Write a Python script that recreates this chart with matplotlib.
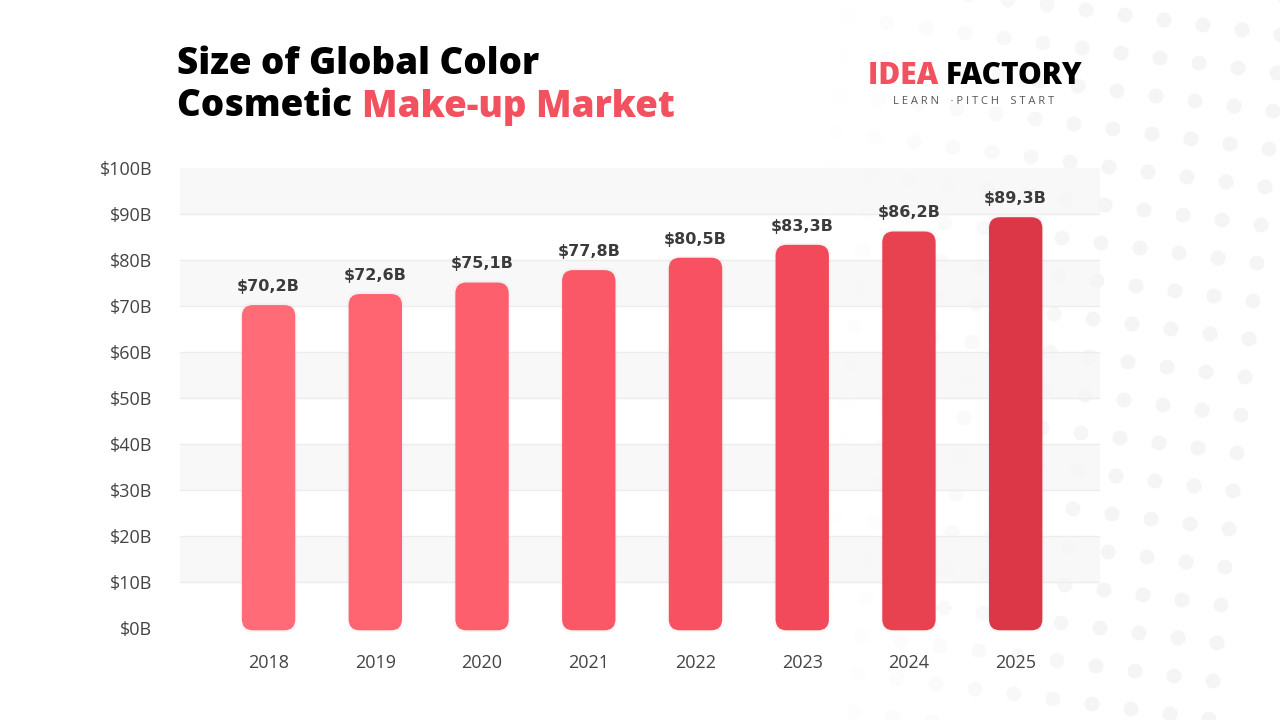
import numpy as np
import matplotlib
matplotlib.use('Agg')
import matplotlib.pyplot as plt
from matplotlib.patches import FancyBboxPatch, Circle

years = ['2018', '2019', '2020', '2021', '2022', '2023', '2024', '2025']
market_size = [70.2, 72.6, 75.1, 77.8, 80.5, 83.3, 86.2, 89.3]
value_labels = ['$70,2B', '$72,6B', '$75,1B', '$77,8B', '$80,5B', '$83,3B', '$86,2B', '$89,3B']
bar_colors = ['#ff6b77', '#fe6571', '#fd5f6c', '#fb5867', '#f85262', '#f24a5a', '#e84251', '#dc3747']
y_ticks = [0, 10, 20, 30, 40, 50, 60, 70, 80, 90, 100]
y_ticklabels = ['$%dB' % t for t in y_ticks]

RED = '#f2525f'
TEXT = '#3b3b3b'
plt.rcParams['font.family'] = ['Open Sans', 'DejaVu Sans']

fig = plt.figure(figsize=(12.8, 7.2), dpi=100)
fig.patch.set_facecolor('white')

# faint dot pattern in the background (right side)
bg = fig.add_axes([0, 0, 1, 1], zorder=-5)
bg.set_xlim(0, 1280)
bg.set_ylim(720, 0)
bg.axis('off')
for row in range(-2, 22):
    for col in range(0, 14):
        cx = 770 + col * 39 - row * 4
        cy = row * 38 + col * 5 + 8
        if cx < 820:
            continue
        a = min(1.0, (cx - 820) / 300.0)
        bg.add_patch(Circle((cx, cy), 7.5, color='#f5f5f5', alpha=a, lw=0))

# main axes: x 180..1100 px, y 168..628 px
ax = fig.add_axes([180 / 1280, 1 - 628 / 720, 920 / 1280, 460 / 720])
ax.set_facecolor('none')
x = np.arange(len(years))
ax.set_xlim(-0.83, 7.79)
ax.set_ylim(0, 100)

for i in range(0, 10, 2):
    ax.axhspan(y_ticks[i + 1], y_ticks[i + 2] if i + 2 < len(y_ticks) else 100,
               color='#f6f6f6', alpha=0.75, lw=0, zorder=0)
for t in y_ticks[1:-1]:
    ax.axhline(t, color='#ededed', lw=1, zorder=1)

bars = ax.bar(x, market_size, width=0.5, color=bar_colors)
px_x = 920 / (7.79 + 0.83)
px_y = 460 / 100
r = 11 / px_x
for b, c in zip(bars, bar_colors):
    b.set_visible(False)
    bx, by, bw, bh = b.get_x(), b.get_y(), b.get_width(), b.get_height()
    # soft shadow
    for k, al in [(0.06, 0.04), (0.03, 0.06)]:
        ax.add_patch(FancyBboxPatch((bx - k * 0.3, by - 0.9), bw + k * 0.6, bh + 1.3,
                                    boxstyle='round,pad=0,rounding_size=%f' % r,
                                    mutation_aspect=px_x / px_y, color='#b0b0b0',
                                    alpha=al, lw=0, zorder=2, clip_on=False))
    ax.add_patch(FancyBboxPatch((bx, by - 0.5), bw, bh + 0.5,
                                boxstyle='round,pad=0,rounding_size=%f' % r,
                                mutation_aspect=px_x / px_y, color=c, lw=0, zorder=3,
                                clip_on=False))

for xi, v, lab in zip(x, market_size, value_labels):
    ax.annotate(lab, (xi, v), xytext=(0, 8), textcoords='offset points',
                ha='center', va='bottom', fontsize=11.5, fontweight='bold', color=TEXT,
                family=['DejaVu Sans'])

ax.set_xticks(x)
ax.set_xticklabels(years, fontsize=13, color='#444444')
ax.set_yticks(y_ticks)
ax.set_yticklabels(y_ticklabels, fontsize=13, color='#444444')
ax.tick_params(length=0)
ax.tick_params(axis='x', pad=19)
ax.tick_params(axis='y', pad=20)
for s in ax.spines.values():
    s.set_visible(False)

# title
TF = dict(fontsize=26.5, fontweight='heavy', va='center', ha='left')
fig.text(177 / 1280, 1 - 64 / 720, 'Size of Global Color', color='black', **TF)
t1 = fig.text(177 / 1280, 1 - 107 / 720, 'Cosmetic ', color='black', **TF)
fig.canvas.draw()
bb = t1.get_window_extent()
fig.text(bb.x1 / 1280, 1 - 107 / 720, 'Make-up Market', color=RED, **TF)

# logo
LF = dict(fontsize=21.5, fontweight='heavy', va='center', ha='left')
l1 = fig.text(868 / 1280, 1 - 76 / 720, 'IDEA ', color=RED, **LF)
fig.canvas.draw()
bb = l1.get_window_extent()
fig.text(bb.x1 / 1280, 1 - 76 / 720, 'FACTORY', color='black', **LF)
fig.text(893 / 1280, 1 - 102 / 720, 'L E A R N    · P I T C H    S T A R T', fontsize=8,
         color='#555555', va='center', ha='left')

fig.savefig('out.png', dpi=100)
